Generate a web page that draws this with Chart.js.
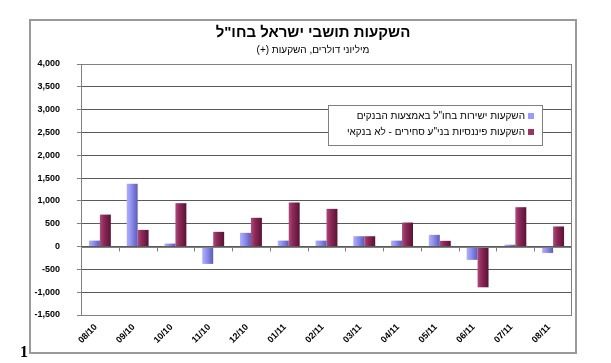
<!DOCTYPE html>
<html>
<head>
<meta charset="utf-8">
<script src="https://cdn.jsdelivr.net/npm/chart.js@4/dist/chart.umd.min.js"></script>
<style>
    html, body { margin: 0; padding: 0; background: #fff; }
    canvas { display: block; }
</style>
</head>
<body>
<canvas id="chart" width="611" height="363"></canvas>
<script>
const months = ["08/10", "09/10", "10/10", "11/10", "12/10", "01/11", "02/11", "03/11", "04/11", "05/11", "06/11", "07/11", "08/11"];
const directInvest = [130, 1375, 65, -380, 300, 130, 130, 226, 130, 256, -292, 40, -140];
const portfolioInvest = [700, 365, 950, 322, 630, 965, 826, 226, 526, 125, -893, 862, 440];
const seriesNames = ["השקעות ישירות בחו\"ל באמצעות הבנקים", "השקעות פיננסיות בני\"ע סחירים - לא בנקאי"];
const yTickValues = [-1500, -1000, -500, 0, 500, 1000, 1500, 2000, 2500, 3000, 3500, 4000];
const titleText = "השקעות תושבי ישראל בחו\"ל";
const subtitleText = "מיליוני דולרים, השקעות (+)";

const FONT = "'Liberation Sans', Arial, sans-serif";
const CAT_PCT = 0.58;

const blueStops = ["#b0b0ff", "#9494f4", "#5c5cb4"];
const maroonStops = ["#b04c7c", "#8e2a5a", "#5a1234"];
const flatColors = ["#9999ff", "#993366"];

// horizontal shading per bar, like the old excel cylinders
function barFill(stops, series) {
    return ctx => {
        const chart = ctx.chart;
        const x = chart.scales.x;
        if (!x || ctx.dataIndex === undefined) return stops[1];
        const cat = (x.right - x.left) / months.length;
        const group = cat * CAT_PCT;
        const left = x.getPixelForValue(ctx.dataIndex) - group / 2 + series * group / 2;
        if (!isFinite(left) || !isFinite(group) || group <= 0) return stops[1];
        const g = chart.ctx.createLinearGradient(left, 0, left + group / 2, 0);
        g.addColorStop(0, stops[0]);
        g.addColorStop(0.35, stops[1]);
        g.addColorStop(1, stops[2]);
        return g;
    };
}

const frame = {
    id: "frame",
    beforeDraw(chart) {
        const ctx = chart.ctx;
        ctx.save();
        ctx.fillStyle = "#fff";
        ctx.fillRect(0, 0, chart.width, chart.height);
        ctx.strokeStyle = "#9a9a9a";
        ctx.lineWidth = 2;
        ctx.strokeRect(30, 20, 546, 333);

        ctx.fillStyle = "#000";
        ctx.textAlign = "center";
        ctx.textBaseline = "middle";
        ctx.font = "bold 15px " + FONT;
        ctx.direction = "rtl";
        ctx.fillText(titleText, 313, 33);
        ctx.font = "10px " + FONT;
        ctx.fillText(subtitleText, 313, 50);

        ctx.direction = "ltr";
        ctx.font = "bold 16px 'Liberation Serif', serif";
        ctx.textAlign = "left";
        ctx.textBaseline = "alphabetic";
        ctx.fillText("1", 20, 357);
        ctx.restore();
    },
    afterDatasetsDraw(chart) {
        const { ctx, chartArea: a, scales: { x, y } } = chart;
        ctx.save();
        ctx.strokeStyle = "#808080";
        ctx.lineWidth = 1;
        ctx.strokeRect(Math.round(a.left) + 0.5, Math.round(a.top) + 0.5,
            Math.round(a.right - a.left) - 1, Math.round(a.bottom - a.top));

        const y0 = Math.round(y.getPixelForValue(0)) + 0.5;
        const cat = (x.right - x.left) / months.length;
        ctx.beginPath();
        ctx.moveTo(a.left, y0);
        ctx.lineTo(a.right, y0);
        for (let i = 1; i < months.length; i++) {
            const px = Math.round(x.left + cat * i) + 0.5;
            ctx.moveTo(px, y0);
            ctx.lineTo(px, y0 + 4);
        }
        ctx.stroke();
        ctx.restore();
    },
    afterDraw(chart) {
        // legend box inside the plot
        const ctx = chart.ctx;
        const bx = 328, by = 105, bw = 214, bh = 40;
        ctx.save();
        ctx.fillStyle = "#fff";
        ctx.fillRect(bx, by, bw, bh);
        ctx.strokeStyle = "#808080";
        ctx.lineWidth = 1;
        ctx.strokeRect(bx + 0.5, by + 0.5, bw, bh);

        ctx.font = "10px " + FONT;
        ctx.textAlign = "right";
        ctx.textBaseline = "middle";
        ctx.direction = "rtl";
        chart.data.datasets.forEach((ds, i) => {
            const cy = 116 + i * 16;
            ctx.fillStyle = flatColors[i];
            ctx.fillRect(528, cy - 3, 6, 6);
            ctx.fillStyle = "#000";
            ctx.fillText(ds.label, 525, cy);
        });
        ctx.restore();
    }
};

new Chart(document.getElementById("chart"), {
    type: "bar",
    data: {
        labels: months,
        datasets: [
            { label: seriesNames[0], data: directInvest, backgroundColor: barFill(blueStops, 0) },
            { label: seriesNames[1], data: portfolioInvest, backgroundColor: barFill(maroonStops, 1) }
        ]
    },
    options: {
        responsive: false,
        animation: false,
        categoryPercentage: CAT_PCT,
        barPercentage: 1,
        layout: { padding: { top: 64, right: 39, left: 0, bottom: 0 } },
        plugins: {
            legend: { display: false },
            title: { display: false },
            tooltip: { enabled: false }
        },
        scales: {
            x: {
                grid: { display: false, drawTicks: false },
                border: { display: false },
                ticks: {
                    color: "#000",
                    font: { family: FONT, size: 9, weight: "bold" },
                    minRotation: 45,
                    maxRotation: 45,
                    padding: 7,
                    labelOffset: -4
                },
                afterFit: s => { s.height = 48; }
            },
            y: {
                min: yTickValues[0],
                max: yTickValues[yTickValues.length - 1],
                afterBuildTicks: s => { s.ticks = yTickValues.map(v => ({ value: v })); },
                grid: {
                    color: "#5a5a5a",
                    borderDash: [2, 2],
                    tickLength: 4,
                    tickColor: "#808080",
                    tickBorderDash: []
                },
                border: { display: false },
                ticks: {
                    color: "#000",
                    font: { family: FONT, size: 9, weight: "bold" },
                    padding: 17,
                    callback: v => v.toLocaleString("en-US")
                },
                afterFit: s => { s.width = 81; }
            }
        }
    },
    plugins: [frame]
});
</script>
</body>
</html>
